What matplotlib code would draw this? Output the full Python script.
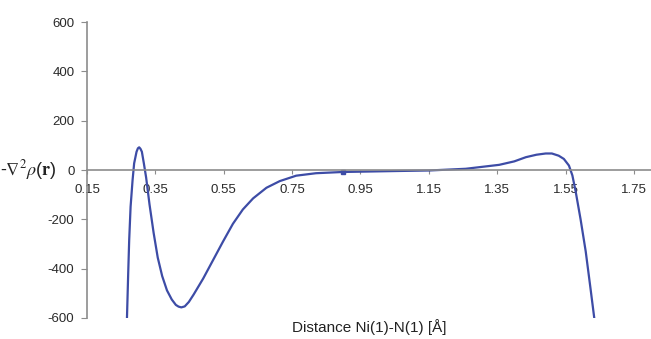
import matplotlib
matplotlib.use("Agg")
import matplotlib.pyplot as plt

# values
dist = [0.267, 0.2706, 0.2735, 0.2776, 0.2834, 0.288, 0.295, 0.299, 0.3027, 0.3065,
        0.3106, 0.3164, 0.323, 0.333, 0.345, 0.357, 0.370, 0.384, 0.398, 0.410,
        0.418, 0.426, 0.436, 0.448, 0.462, 0.490, 0.519, 0.548, 0.577, 0.606,
        0.636, 0.675, 0.714, 0.762, 0.820, 0.898, 0.98, 1.06, 1.15, 1.258,
        1.356, 1.40, 1.434, 1.465, 1.492, 1.510, 1.530, 1.545, 1.560, 1.570,
        1.580, 1.594, 1.609, 1.623, 1.634]
lap = [-600, -419, -284, -149, -41, 27, 74, 88, 92, 86,
       74, 27, -30, -140, -255, -355, -430, -488, -525, -547,
       -554, -557, -553, -535, -505, -440, -365, -290, -218, -160,
       -115, -72, -45, -23, -13, -8, -6, -4, -2, 5,
       21, 35, 52, 62, 67, 67, 58, 45, 18, -22,
       -90, -200, -330, -480, -600]
crit_x = [0.898]
crit_y = [-8]

xticks = [0.15, 0.35, 0.55, 0.75, 0.95, 1.15, 1.35, 1.55, 1.75]
yticks = [-600, -400, -200, 0, 200, 400, 600]

plt.rcParams['font.family'] = ['Liberation Sans', 'DejaVu Sans']
plt.rcParams['mathtext.fontset'] = 'stix'
plt.rcParams['axes.unicode_minus'] = False

fig = plt.figure(figsize=(6.51, 3.39), dpi=100)
ax = fig.add_axes([0.1336, 0.062, 0.8664, 0.873])

line_col = '#3d4ca6'
ax.plot(dist, lap, color=line_col, linewidth=1.6, solid_joinstyle='round')
ax.plot(crit_x, crit_y, 's', color=line_col, markersize=3.5)

ax.set_xlim(0.15, 1.8)
ax.set_ylim(-600, 600)
ax.set_xticks(xticks)
ax.set_xticklabels([f'{t:.2f}' for t in xticks])
ax.set_yticks(yticks)

for s in ['top', 'right']:
    ax.spines[s].set_visible(False)
ax.spines['bottom'].set_position(('data', 0))
ax.spines['bottom'].set_color('#8c8c8c')
ax.spines['left'].set_color('#8c8c8c')
ax.spines['bottom'].set_linewidth(1.2)
ax.spines['left'].set_linewidth(1.2)
ax.tick_params(axis='x', direction='out', length=3, color='#8c8c8c', labelsize=9.5,
               labelcolor='#2a2a2a', pad=7)
ax.tick_params(axis='y', direction='out', length=4, color='#8c8c8c', labelsize=9.5,
               labelcolor='#2a2a2a', pad=5)

fig.text(0.0, 1 - 170 / 339, r'-$\nabla^2\rho$($\mathbf{r}$)', fontsize=13,
         ha='left', va='center', color='#222222')
fig.text((0.1336 + 1.0) / 2, 1 - 327 / 339, 'Distance Ni(1)-N(1) [Å]', fontsize=11,
         ha='center', va='center', color='#222222')

fig.savefig('out.png', dpi=100)
